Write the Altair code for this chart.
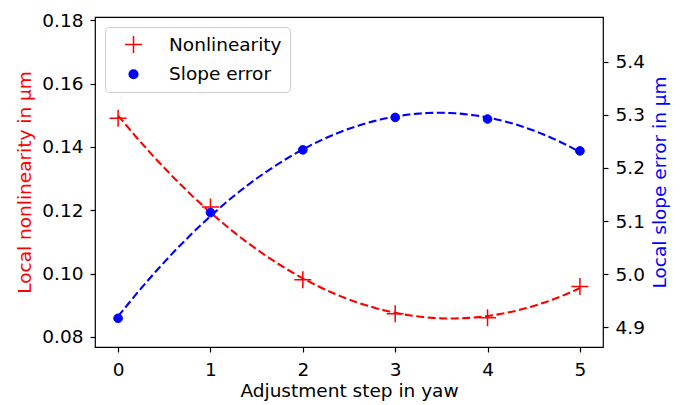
import altair as alt
import pandas as pd

# Measurements per adjustment step
steps = [0, 1, 2, 3, 4, 5]
nonlinearity = [0.149, 0.121, 0.098, 0.0873, 0.0860, 0.0959]
slope_error = [4.917, 5.116, 5.234, 5.295, 5.292, 5.232]

series_names = ["Nonlinearity", "Slope error"]
series_colors = ["#ff0000", "#0000ff"]

x_ticks = [0, 1, 2, 3, 4, 5]
left_ticks = [0.08, 0.10, 0.12, 0.14, 0.16, 0.18]
right_ticks = [4.9, 5.0, 5.1, 5.2, 5.3, 5.4]

df = pd.DataFrame({"step": steps, "nonlin": nonlinearity, "slope": slope_error})

FONT = "DejaVu Sans"
FS = 18.5
PLUS = "M-1,0L1,0M0,-1L0,1"

x_enc = alt.X(
    "step:Q",
    scale=alt.Scale(domain=[-0.25, 5.25], nice=False, zero=False),
    axis=alt.Axis(title="Adjustment step in yaw", values=x_ticks, format="d",
                  labelPadding=8, titlePadding=3),
)
y_left = alt.Y(
    "nonlin:Q",
    scale=alt.Scale(domain=[0.0768, 0.181], nice=False, zero=False),
    axis=alt.Axis(title="Local nonlinearity in µm", titleColor="#ff0000",
                  values=left_ticks, format=".2f", orient="left", titlePadding=7),
)
y_right = alt.Y(
    "slope:Q",
    scale=alt.Scale(domain=[4.863, 5.484], nice=False, zero=False),
    axis=alt.Axis(title="Local slope error in µm", titleColor="#0000ff",
                  values=right_ticks, format=".1f", orient="right",
                  titleAngle=270, titleBaseline="top", titlePadding=6),
)


def marker_channels():
    return dict(
        shape=alt.Shape("series:N", scale=alt.Scale(domain=series_names, range=[PLUS, "circle"]), title=None),
        stroke=alt.Stroke("series:N", scale=alt.Scale(domain=series_names, range=series_colors), title=None),
        fill=alt.Fill("series:N", scale=alt.Scale(domain=series_names, range=["transparent", "#0000ff"]), title=None),
        size=alt.Size("series:N", scale=alt.Scale(domain=series_names, range=[289, 75]), title=None),
    )


base = alt.Chart(df)

# Quadratic fits, dashed
nonlin_fit = base.transform_regression("step", "nonlin", method="poly", order=2).mark_line(
    color="#ff0000", strokeWidth=2.1, strokeDash=[8, 3.5]
).encode(x=x_enc, y=y_left)

slope_fit = base.transform_regression("step", "slope", method="poly", order=2).mark_line(
    color="#0000ff", strokeWidth=2.1, strokeDash=[8, 3.5]
).encode(x=x_enc, y=y_right)

# Measured points
nonlin_pts = base.transform_calculate(series="'Nonlinearity'").mark_point(
    filled=False, opacity=1, strokeWidth=1.5
).encode(x=x_enc, y=y_left, **marker_channels())

slope_pts = base.transform_calculate(series="'Slope error'").mark_point(
    filled=False, opacity=1, strokeWidth=1
).encode(x=x_enc, y=y_right, **marker_channels())

left = alt.layer(nonlin_fit, nonlin_pts)
right = alt.layer(slope_fit, slope_pts)

chart = (
    alt.layer(left, right)
    .resolve_scale(y="independent")
    .properties(
        width=508,
        height=330,
        autosize=alt.AutoSizeParams(type="none"),
        padding={"left": 95, "top": 17, "right": 85, "bottom": 58},
        background="white",
    )
    .configure_view(stroke="black", strokeWidth=1.2)
    .configure_axis(
        labelFont=FONT, labelFontSize=FS, labelColor="black",
        titleFont=FONT, titleFontSize=FS, titleFontWeight="normal",
        tickColor="black", tickSize=5, tickWidth=1.2,
        domain=False, grid=False, labelPadding=7,
    )
    .configure_axisX(titleColor="black")
    .configure_legend(
        orient="none", legendX=10, legendY=10, padding=8,
        fillColor="rgba(255,255,255,0.8)", strokeColor="#cccccc", cornerRadius=4,
        labelFont=FONT, labelFontSize=FS, labelColor="black",
        symbolOffset=11, labelOffset=26, rowPadding=9, symbolStrokeWidth=1.5,
    )
)

chart.save("out.html", embed_options={"renderer": "svg", "actions": False})
